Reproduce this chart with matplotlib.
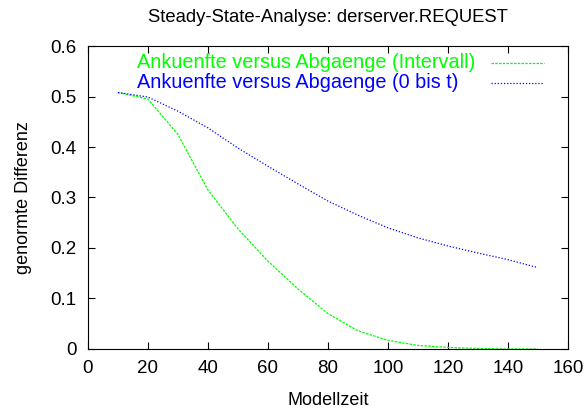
import matplotlib.pyplot as plt

plt.rcParams['font.family'] = ['Liberation Sans', 'DejaVu Sans']

# Modellzeit and the two difference series
zeit = [10, 20, 30, 40, 50, 60, 70, 80, 90, 100, 110, 120, 130, 140, 150]
intervall = [0.508, 0.495, 0.425, 0.315, 0.238, 0.174, 0.119, 0.070, 0.036,
             0.017, 0.007, 0.003, 0.001, 0.0, 0.0]
null_bis_t = [0.508, 0.499, 0.471, 0.438, 0.398, 0.362, 0.327, 0.293, 0.265,
              0.240, 0.220, 0.204, 0.190, 0.177, 0.161]
labels = ['Ankuenfte versus Abgaenge (Intervall)',
          'Ankuenfte versus Abgaenge (0 bis t)']
colors = ['#00ff00', '#0000ff']
styles = [(0, (2, 1)), (0, (1, 1.5))]

fig = plt.figure(figsize=(5.86, 4.11), dpi=100)
ax = fig.add_axes([0.150, 0.151, 0.819, 0.737])

for ys, lab, c, ls in zip([intervall, null_bis_t], labels, colors, styles):
    ax.plot(zeit, ys, color=c, linestyle=ls, linewidth=0.9, label=lab)

ax.set_xlim(0, 160)
ax.set_ylim(0, 0.6)
ax.set_xticks(range(0, 161, 20))
ax.set_yticks([0, 0.1, 0.2, 0.3, 0.4, 0.5, 0.6])
ax.set_yticklabels(['0', '0.1', '0.2', '0.3', '0.4', '0.5', '0.6'])
ax.tick_params(direction='in', top=True, right=True, length=5, labelsize=13.5, pad=8)

ax.set_xlabel('Modellzeit', fontsize=13, labelpad=11)
ax.set_ylabel('genormte Differenz', fontsize=13, labelpad=13)
ax.set_title('Steady-State-Analyse: derserver.REQUEST', fontsize=13.3, pad=17)

# gnuplot-style key: left-aligned text, sample line on the right
for i, (lab, c, ls) in enumerate(zip(labels, colors, styles)):
    y = 0.944 - i * 0.066
    ax.text(0.102, y, lab, color=c, fontsize=14.3, ha='left', va='center',
            transform=ax.transAxes)
    ax.plot([0.839, 0.950], [y, y], color=c, linestyle=ls, linewidth=0.9,
            transform=ax.transAxes)

fig.savefig('out.png')
